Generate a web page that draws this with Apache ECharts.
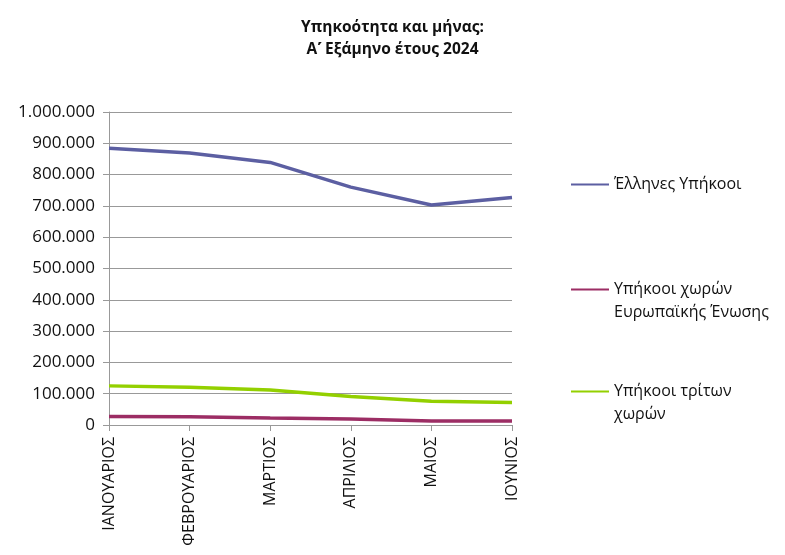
<!DOCTYPE html>
<html>
<head>
    <meta charset="utf-8">
    <title>Υπηκοότητα και μήνας</title>
    <script src="https://cdn.jsdelivr.net/npm/echarts@6/dist/echarts.min.js"></script>
</head>
<style>
    body{margin:0;background:#fff;}
    #main{width:785px;height:555px;}
</style>
<body>
<div id="main"></div>
<script>
    // δεδομένα
    var months = ['ΙΑΝΟΥΑΡΙΟΣ', 'ΦΕΒΡΟΥΑΡΙΟΣ', 'ΜΑΡΤΙΟΣ', 'ΑΠΡΙΛΙΟΣ', 'ΜΑΙΟΣ', 'ΙΟΥΝΙΟΣ'];
    var seriesNames = ['Έλληνες Υπήκοοι', 'Υπήκοοι χωρών\nΕυρωπαϊκής Ένωσης', 'Υπήκοοι τρίτων\nχωρών'];
    var greeks = [884000, 869000, 839000, 760000, 703000, 727000];
    var euCitizens = [27000, 26000, 22000, 19000, 13000, 13000];
    var thirdCountry = [125000, 121000, 112000, 91000, 76000, 72000];
    var colors = ['#5C5FA2', '#9C2D64', '#93D000'];

    var font = '"Open Sans", "Noto Sans", sans-serif';

    function fmt(v) {
        return String(v).replace(/\B(?=(\d{3})+(?!\d))/g, '.');
    }

    var allData = [greeks, euCitizens, thirdCountry];
    var series = [];
    for (var i = 0; i < allData.length; i++) {
        series.push({
            name: seriesNames[i], type: 'line', data: allData[i],
            symbol: 'none', lineStyle: {width: 3.5, color: colors[i]}, itemStyle: {color: colors[i]}
        });
    }

    // ένα legend για κάθε σειρά, η γραμμή στο ύψος της πρώτης γραμμής κειμένου
    var legendTops = [168, 250, 352];
    var legends = [];
    for (var j = 0; j < seriesNames.length; j++) {
        legends.push({
            data: [seriesNames[j]], left: 566, top: legendTops[j], orient: 'vertical',
            itemWidth: 38, itemHeight: 10,
            icon: 'path://M0,4 L38,4 L38,6 L0,6 Z',
            formatter: function (name) {
                return name.indexOf('\n') >= 0 ? ' \n' + name : name;
            },
            textStyle: {fontFamily: font, fontSize: 16, color: '#111', lineHeight: 23}
        });
    }

    var myChart = echarts.init(document.getElementById('main'));
    var option = {
        animation: false,
        title: {
            text: 'Υπηκοότητα και μήνας:\nΑ\u0374 Εξάμηνο έτους 2024',
            left: 'center', top: 12,
            textStyle: {fontFamily: font, fontSize: 15.5, fontWeight: 'bold', color: '#111', lineHeight: 22}
        },
        legend: legends,
        grid: {left: 109, right: 273, top: 112, bottom: 130, containLabel: false},
        xAxis: {
            type: 'category', data: months, boundaryGap: false,
            axisLine: {lineStyle: {color: '#999'}},
            axisTick: {show: true, alignWithLabel: true, length: 6, lineStyle: {color: '#999'}},
            axisLabel: {rotate: 90, margin: 12, fontFamily: font, fontSize: 16, color: '#111', interval: 0}
        },
        yAxis: {
            type: 'value', min: 0, max: 1000000, interval: 100000,
            axisLine: {show: true, lineStyle: {color: '#999'}},
            axisTick: {show: true, length: 6, lineStyle: {color: '#999'}},
            splitLine: {lineStyle: {color: '#999'}},
            axisLabel: {margin: 14, fontFamily: font, fontSize: 17, color: '#111', formatter: fmt}
        },
        series: series
    };
    myChart.setOption(option);
</script>
</body>
</html>
